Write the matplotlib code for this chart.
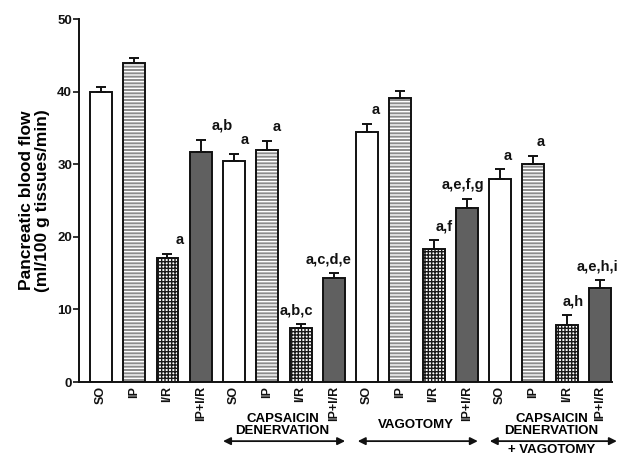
import matplotlib
matplotlib.use("Agg")
import matplotlib.pyplot as plt
import matplotlib.transforms as mtransforms
import numpy as np

plt.rcParams['font.family'] = ['Liberation Sans', 'DejaVu Sans']
plt.rcParams['font.weight'] = 'bold'
plt.rcParams['hatch.linewidth'] = 1.0

# pancreatic blood flow, ml/100 g tissue/min, four groups of four
groups = ['SO', 'IP', 'I/R', 'IP+I/R']
tick_labels = groups * 4
flow = [40.0, 44.0, 17.1, 31.7,
        30.4, 32.0, 7.4, 14.3,
        34.4, 39.2, 18.3, 24.0,
        28.0, 30.1, 7.8, 13.0]
sem = [0.6, 0.6, 0.55, 1.7,
       1.0, 1.25, 0.6, 0.7,
       1.15, 0.85, 1.3, 1.25,
       1.3, 1.05, 1.4, 1.0]
sig = ['', '', 'a', 'a,b',
       'a', 'a', 'a,b,c', 'a,c,d,e',
       'a', '', 'a,f', 'a,e,f,g',
       'a', 'a', 'a,h', 'a,e,h,i']
# horizontal nudge of each significance label (bar units)
label_dx = [0, 0, 0.37, 0.64,
            0.33, 0.29, -0.11, -0.15,
            0.27, 0, 0.31, -0.12,
            0.23, 0.23, 0.19, -0.06]

# (label, extra line) per treatment, with the bar range its arrow covers
treatments = [('CAPSAICIN\nDENERVATION', ''),
              ('VAGOTOMY', ''),
              ('CAPSAICIN\nDENERVATION', '+ VAGOTOMY')]
arrow_span = [(3.67, 7.34), (7.72, 11.33), (11.69, 15.51)]

# one look per group member
styles = {
    'SO': dict(face='white', hatch=None, hcol='white'),
    'IP': dict(face='#8c8c8c', hatch='-----', hcol='white'),
    'I/R': dict(face='white', hatch='+++++', hcol='#1a1a1a'),
    'IP+I/R': dict(face='#606060', hatch=None, hcol='#606060'),
}

fig = plt.figure(figsize=(6.25, 4.57), dpi=100)
ax = fig.add_axes([0.1264, 0.1641, 0.8526, 0.7937])

x = np.arange(len(flow))
width = 0.66
for i, (v, name) in enumerate(zip(flow, tick_labels)):
    st = styles[name]
    ax.bar(x[i], v, width, color=st['face'], edgecolor=st['hcol'],
           hatch=st['hatch'], linewidth=0, zorder=2)
    ax.bar(x[i], v, width, fill=False, edgecolor='#111111', linewidth=1.4, zorder=3)

ax.errorbar(x, flow, yerr=[np.zeros(len(sem)), sem], fmt='none',
            ecolor='#111111', elinewidth=1.4, capsize=3.8, capthick=1.4, zorder=4)

for i, lab in enumerate(sig):
    if lab:
        ax.text(x[i] + label_dx[i], flow[i] + sem[i] + 1.9, lab, ha='center', va='center',
                fontsize=10.5, fontweight='bold', color='#111111')

ax.set_xlim(-0.66, 15.36)
ax.set_ylim(0, 50)
ax.set_yticks([0, 10, 20, 30, 40, 50])
ax.tick_params(axis='y', labelsize=9.5, length=4, width=1.2, pad=1, colors='#111111')
ax.set_xticks(x)
ax.set_xticklabels(tick_labels, rotation=90, fontsize=9, fontweight='bold')
ax.tick_params(axis='x', length=0, pad=3, colors='#111111')
for s in ['top', 'right']:
    ax.spines[s].set_visible(False)
for s in ['left', 'bottom']:
    ax.spines[s].set_linewidth(1.4)
    ax.spines[s].set_color('#111111')

ax.set_ylabel('Pancreatic blood flow\n(ml/100 g tissues/min)', fontsize=12.5,
              fontweight='bold', linespacing=1.1)
ax.yaxis.set_label_coords(-0.054, 0.5)

# treatment brackets below the tick labels
trans = mtransforms.blended_transform_factory(ax.transData, ax.transAxes)
for (text, extra), (lo, hi) in zip(treatments, arrow_span):
    mid = (lo + hi) / 2
    ax.annotate('', xy=(lo, -0.163), xytext=(hi, -0.163), xycoords=trans,
                textcoords=trans, annotation_clip=False,
                arrowprops=dict(arrowstyle='<|-|>', color='#111111', lw=1.3,
                                mutation_scale=11, shrinkA=0, shrinkB=0))
    ax.text(mid - 0.05, -0.118, text, transform=trans, ha='center', va='center',
            fontsize=9.5, fontweight='bold', linespacing=0.95, clip_on=False)
    if extra:
        ax.text(mid - 0.05, -0.188, extra, transform=trans, ha='center', va='center',
                fontsize=9.5, fontweight='bold', clip_on=False)

fig.savefig('out.png', dpi=100)
